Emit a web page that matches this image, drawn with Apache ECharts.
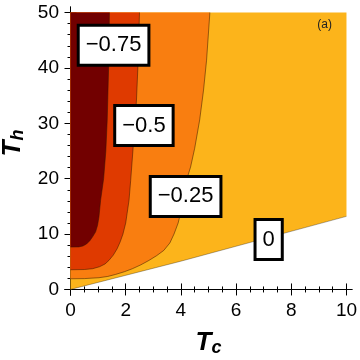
<!DOCTYPE html>
<html>
<head>
<meta charset="utf-8">
<script src="https://cdn.jsdelivr.net/npm/echarts@6/dist/echarts.min.js"></script>
<style>
html, body { margin: 0; padding: 0; background: #fff; }
#main { width: 360px; height: 360px; }
</style>
</head>
<body>
<div id="main"></div>
<script>
// contour lines, points are [Tc, Th]
const contour0 = [[0, 0], [4, 5.1], [10, 13.2]];
const contour025 = [[0, 1.93], [0.5, 1.96], [1.03, 2.12], [1.35, 2.35], [1.63, 2.71], [1.95, 3.2], [2.24, 3.74], [2.55, 4.45], [2.84, 5.24], [3.12, 6.1], [3.38, 7.05], [3.6, 8.4], [3.75, 10], [3.9, 12], [4.02, 14.5], [4.12, 17], [4.2, 19.7], [4.35, 22.1], [4.5, 25.5], [4.68, 30.6], [4.82, 36], [4.93, 41.4], [5.05, 50]];
const contour05 = [[0, 3.56], [0.5, 3.6], [0.8, 3.75], [1.05, 4.1], [1.25, 4.6], [1.39, 5.24], [1.55, 6.2], [1.69, 7.36], [1.8, 8.6], [1.9, 10], [2.0, 12], [2.05, 13.7], [2.12, 16.1], [2.18, 19.7], [2.26, 25], [2.33, 30], [2.39, 34.2], [2.44, 40], [2.5, 50]];
const contour075 = [[0, 7.65], [0.3, 7.68], [0.45, 7.85], [0.58, 8.2], [0.7, 8.8], [0.8, 9.5], [0.91, 10.4], [0.98, 11.6], [1.03, 13.1], [1.09, 16.1], [1.2, 20], [1.28, 25], [1.33, 30.6], [1.38, 40], [1.41, 50]];

const levelNames = ['0', '−0.25', '−0.5', '−0.75'];
const levelColors = ['#fcb41b', '#f97e10', '#df3a00', '#720000'];
// where the level labels sit, [Tc, Th]
const labelPos = [[7.18, 9.0], [4.17, 16.8], [2.66, 29.6], [1.56, 44.1]];

const xTicks = [0, 2, 4, 6, 8, 10];
const yTicks = [0, 10, 20, 30, 40, 50];
const xMinor = [];
for (let v = 0.5; v < 10; v += 0.5) if (v % 2 !== 0) xMinor.push(v);
const yMinor = [];
for (let v = 2; v < 50; v += 2) if (v % 10 !== 0) yMinor.push(v);

const boundaries = [contour0, contour025, contour05, contour075];
// each filled band: its lower contour closed through the top-left corner
const regions = [
    contour0.concat([[10, 50], [0, 50]]),
    contour025.concat([[0, 50]]),
    contour05.concat([[0, 50]]),
    contour075.concat([[0, 50]])
];

const font = 'Liberation Sans, Arial, sans-serif';

function renderItem(params, api) {
    const i = params.dataIndex;
    const poly = regions[i].map(p => api.coord(p));
    const line = boundaries[i].map(p => api.coord(p));
    return {
        type: 'group',
        children: [
            { type: 'polygon', shape: { points: poly }, style: { fill: levelColors[i] } },
            {
                type: 'polyline', shape: { points: line },
                style: { fill: null, stroke: i === 0 ? 'rgba(0,0,0,0.3)' : 'rgba(50,20,0,0.5)', lineWidth: 1 }
            }
        ]
    };
}

function nameStyle(pad) {
    return {
        color: '#000',
        fontFamily: font,
        padding: pad,
        rich: {
            t: { fontSize: 26, fontWeight: 'bold', fontStyle: 'italic', fontFamily: font, color: '#000' },
            s: { fontSize: 18, fontWeight: 'bold', fontStyle: 'italic', fontFamily: font, color: '#000', padding: [10, 0, 0, 0] }
        }
    };
}

function tickAxis(extra) {
    return Object.assign({
        type: 'value',
        splitLine: { show: false },
        axisLine: { show: false },
        axisLabel: { show: false }
    }, extra);
}

const xr = { min: -0.2, max: 10.2 };
const yr = { min: -1, max: 51 };

const option = {
    animation: false,
    title: {
        text: '(a)', right: 23, top: 14,
        textStyle: { fontSize: 12, fontWeight: 'normal', fontFamily: font, color: '#222' }
    },
    grid: { left: 65, right: 8, top: 7, bottom: 65, outerBoundsMode: 'none' },
    xAxis: [
        tickAxis(Object.assign({}, xr, {
            position: 'bottom',
            axisLine: { show: true, lineStyle: { color: '#000', width: 1 } },
            axisTick: { show: true, inside: true, length: 6, customValues: xTicks, lineStyle: { color: '#000' } },
            axisLabel: { show: true, customValues: xTicks, margin: 6, fontSize: 19, fontFamily: font, color: '#000' },
            name: '{t|T}{s|c}', nameLocation: 'middle', nameGap: 34, nameTextStyle: nameStyle(0)
        })),
        tickAxis(Object.assign({}, xr, {
            position: 'bottom',
            axisTick: { show: true, inside: true, length: 3, customValues: xMinor, lineStyle: { color: '#000' } }
        })),
        tickAxis(Object.assign({}, xr, {
            position: 'top',
            axisLine: { show: true, lineStyle: { color: '#000', width: 1 } },
            axisTick: { show: true, inside: true, length: 6, customValues: xTicks, lineStyle: { color: '#000' } }
        })),
        tickAxis(Object.assign({}, xr, {
            position: 'top',
            axisTick: { show: true, inside: true, length: 3, customValues: xMinor, lineStyle: { color: '#000' } }
        }))
    ],
    yAxis: [
        tickAxis(Object.assign({}, yr, {
            position: 'left',
            axisLine: { show: true, lineStyle: { color: '#000', width: 1 } },
            axisTick: { show: true, inside: true, length: 6, customValues: yTicks, lineStyle: { color: '#000' } },
            axisLabel: { show: true, customValues: yTicks, margin: 6, fontSize: 19, fontFamily: font, color: '#000' },
            name: '{t|T}{s|h}', nameLocation: 'middle', nameGap: 31, nameRotate: 90, nameTextStyle: nameStyle([0, 0, 0, 16])
        })),
        tickAxis(Object.assign({}, yr, {
            position: 'left',
            axisTick: { show: true, inside: true, length: 3, customValues: yMinor, lineStyle: { color: '#000' } }
        })),
        tickAxis(Object.assign({}, yr, {
            position: 'right',
            axisLine: { show: true, lineStyle: { color: '#000', width: 1 } },
            axisTick: { show: true, inside: true, length: 6, customValues: yTicks, lineStyle: { color: '#000' } }
        })),
        tickAxis(Object.assign({}, yr, {
            position: 'right',
            axisTick: { show: true, inside: true, length: 3, customValues: yMinor, lineStyle: { color: '#000' } }
        }))
    ],
    series: [
        {
            type: 'custom',
            xAxisIndex: 0, yAxisIndex: 0,
            renderItem: renderItem,
            clip: true,
            silent: true,
            data: regions.map((r, i) => [i])
        },
        {
            type: 'scatter',
            xAxisIndex: 0, yAxisIndex: 0,
            symbolSize: 0,
            silent: true,
            z: 5,
            itemStyle: { opacity: 1 },
            data: labelPos.map((p, i) => [p[0], p[1], levelNames[i]]),
            label: {
                show: true,
                position: 'inside',
                formatter: p => p.value[2],
                fontSize: 22,
                fontFamily: font,
                color: '#000',
                opacity: 1,
                backgroundColor: '#fff',
                borderColor: '#000',
                borderWidth: 3,
                padding: [8, 6, 7, 6]
            }
        }
    ]
};

const chart = echarts.init(document.getElementById('main'));
chart.setOption(option);
</script>
</body>
</html>
